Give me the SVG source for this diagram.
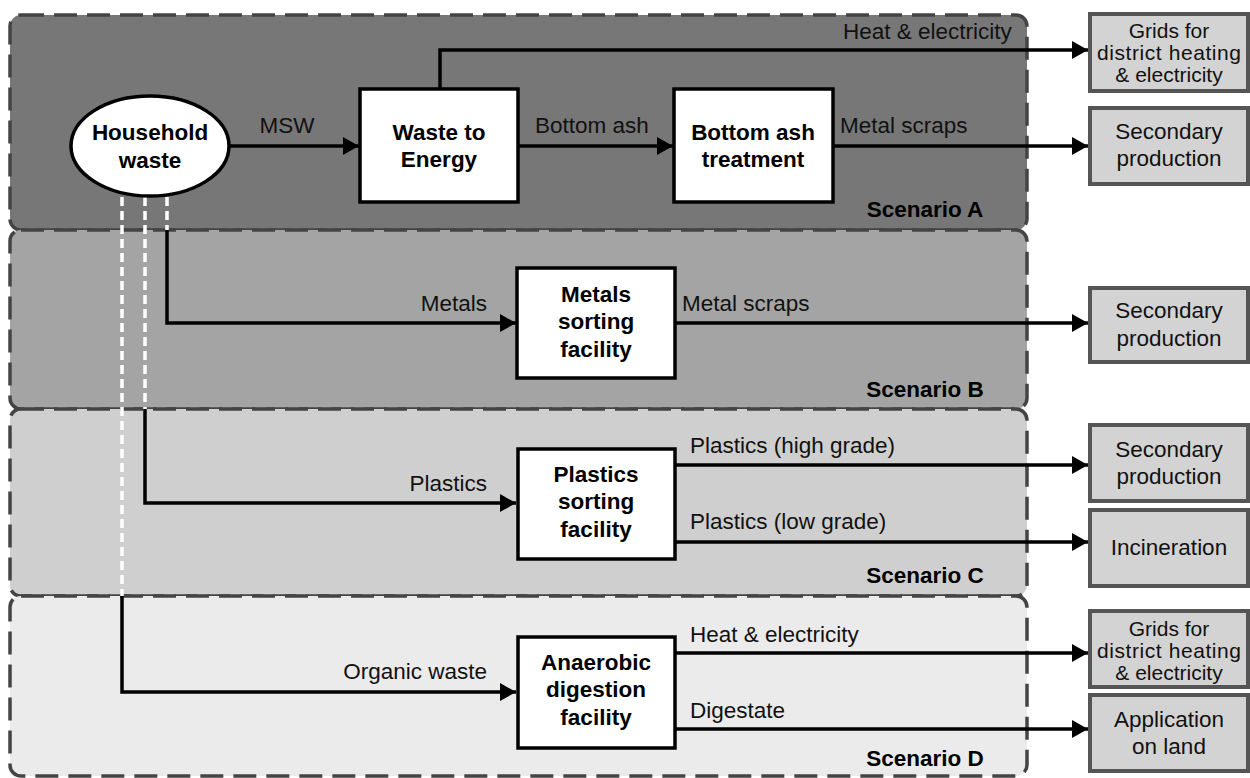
<svg xmlns="http://www.w3.org/2000/svg" width="1250" height="778" viewBox="0 0 1250 778">
<defs>
<marker id="arr" markerUnits="userSpaceOnUse" markerWidth="17" markerHeight="19" refX="16" refY="9" orient="auto">
<path d="M0,0 L16,9 L0,18 z" fill="#000"/>
</marker>
<style>
.panel{stroke:#444;stroke-width:3.5;stroke-dasharray:23 10}
.proc{fill:#fff;stroke:#000;stroke-width:3.5}
.out{fill:#d3d3d3;stroke:#555;stroke-width:4}
.b{font-family:"Liberation Sans",Arial,sans-serif;font-weight:bold;font-size:22.5px;fill:#000;text-anchor:middle}
.n{font-family:"Liberation Sans",Arial,sans-serif;font-size:22.5px;fill:#111}
.g{font-size:21px}
.c{text-anchor:middle}
.e{text-anchor:end}
.con{fill:none;stroke:#000;stroke-width:3.5}
.arrow{marker-end:url(#arr)}
.wd{fill:none;stroke:#fff;stroke-width:3.5;stroke-dasharray:9 5}
</style>
</defs>
<rect width="1250" height="778" fill="#fff"/>
<g id="panels">
<g id="scenarioA"><rect class="panel" x="10" y="15" width="1017" height="215" rx="11" fill="#777"/><text class="b" x="925" y="217">Scenario A</text></g>
<g id="scenarioB"><rect class="panel" x="10" y="230" width="1017" height="179" rx="11" fill="#a4a4a4"/><text class="b" x="925" y="397">Scenario B</text></g>
<g id="scenarioC"><rect class="panel" x="10" y="409" width="1017" height="187" rx="11" fill="#cfcfcf"/><text class="b" x="925" y="583">Scenario C</text></g>
<g id="scenarioD"><rect class="panel" x="10" y="596" width="1017" height="180" rx="11" fill="#ebebeb"/><text class="b" x="925" y="766">Scenario D</text></g>
</g>
<g id="connectors">
<path class="wd" d="M122 197 V596"/>
<path class="wd" d="M145 197 V409"/>
<path class="wd" d="M167 197 V230"/>
<path class="con arrow" d="M167 230 V323 H516"/>
<path class="con arrow" d="M145 409 V503 H516"/>
<path class="con arrow" d="M122 596 V692 H516"/>
<path class="con arrow" d="M230 146 H359"/>
<path class="con arrow" d="M440 89 V50 H1088"/>
<path class="con arrow" d="M518 146 H673"/>
<path class="con arrow" d="M833 146 H1088"/>
<path class="con arrow" d="M675 323 H1088"/>
<path class="con arrow" d="M675 465 H1088"/>
<path class="con arrow" d="M675 542 H1088"/>
<path class="con arrow" d="M675 653 H1088"/>
<path class="con arrow" d="M675 729 H1088"/>
<text class="n c" x="287" y="133">MSW</text>
<text class="n" x="535" y="133">Bottom ash</text>
<text class="n" x="840" y="133">Metal scraps</text>
<text class="n" x="843" y="39">Heat &amp; electricity</text>
<text class="n e" x="487" y="311">Metals</text>
<text class="n" x="682" y="311">Metal scraps</text>
<text class="n e" x="487" y="491">Plastics</text>
<text class="n" x="690" y="453">Plastics (high grade)</text>
<text class="n" x="690" y="529">Plastics (low grade)</text>
<text class="n e" x="487" y="679">Organic waste</text>
<text class="n" x="690" y="642">Heat &amp; electricity</text>
<text class="n" x="690" y="718">Digestate</text>
</g>
<g id="household"><ellipse cx="150" cy="146" rx="79" ry="50" fill="#fff" stroke="#000" stroke-width="3.5"/><text class="b" x="150" y="140">Household</text><text class="b" x="150" y="168">waste</text></g>
<g id="wte"><rect class="proc" x="360" y="89" width="158" height="113"/><text class="b" x="439" y="140">Waste to</text><text class="b" x="439" y="167">Energy</text></g>
<g id="bat"><rect class="proc" x="674" y="89" width="159" height="113"/><text class="b" x="753" y="140">Bottom ash</text><text class="b" x="753" y="167">treatment</text></g>
<g id="metals"><rect class="proc" x="517" y="268" width="158" height="110"/><text class="b" x="596" y="302">Metals</text><text class="b" x="596" y="329">sorting</text><text class="b" x="596" y="357">facility</text></g>
<g id="plastics"><rect class="proc" x="518" y="449" width="157" height="110"/><text class="b" x="596" y="482">Plastics</text><text class="b" x="596" y="509">sorting</text><text class="b" x="596" y="537">facility</text></g>
<g id="anaerobic"><rect class="proc" x="518" y="637" width="157" height="111"/><text class="b" x="596" y="670">Anaerobic</text><text class="b" x="596" y="697">digestion</text><text class="b" x="596" y="725">facility</text></g>
<g id="gridsA"><rect class="out" x="1090" y="14" width="158" height="77"/><text class="n c g" x="1169" y="38">Grids for</text><text class="n c g" x="1169" y="60" textLength="144">district heating</text><text class="n c g" x="1169" y="82">&amp; electricity</text></g>
<g id="secA"><rect class="out" x="1090" y="108" width="158" height="76"/><text class="n c" x="1169" y="139">Secondary</text><text class="n c" x="1169" y="166">production</text></g>
<g id="secB"><rect class="out" x="1090" y="288" width="158" height="74"/><text class="n c" x="1169" y="318">Secondary</text><text class="n c" x="1169" y="346">production</text></g>
<g id="secC"><rect class="out" x="1090" y="425" width="158" height="76"/><text class="n c" x="1169" y="457">Secondary</text><text class="n c" x="1169" y="484">production</text></g>
<g id="incin"><rect class="out" x="1090" y="510" width="158" height="76"/><text class="n c" x="1169" y="555">Incineration</text></g>
<g id="gridsD"><rect class="out" x="1090" y="611" width="158" height="76"/><text class="n c g" x="1169" y="636">Grids for</text><text class="n c g" x="1169" y="658" textLength="144">district heating</text><text class="n c g" x="1169" y="680">&amp; electricity</text></g>
<g id="land"><rect class="out" x="1090" y="695" width="158" height="76"/><text class="n c" x="1169" y="727">Application</text><text class="n c" x="1169" y="754">on land</text></g>
</svg>
